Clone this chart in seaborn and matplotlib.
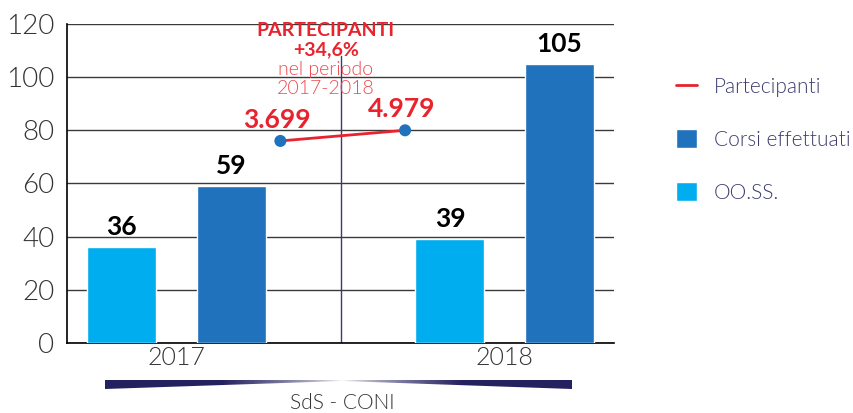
import numpy as np
import pandas as pd
import matplotlib
matplotlib.use("Agg")
import matplotlib.pyplot as plt
from matplotlib.patches import Patch, Polygon
from matplotlib.lines import Line2D
import seaborn as sns

# data
anni = ["2017", "2018"]
oo_ss = [36, 39]
corsi = [59, 105]
partecipanti = [3699, 4979]
partecipanti_h = [76, 80]   # height of the red points on the left scale
slots = ["OO.SS. 2017", "Corsi 2017", "", "OO.SS. 2018", "Corsi 2018"]

LIGHT = "#00aeef"
DARK = "#1f72bb"
RED = "#e8232d"
NAVY = "#24215f"
THIN = 300

sns.set_style("white")
plt.rcParams["font.family"] = ["Lato", "DejaVu Sans"]

df = pd.DataFrame({
    "slot": [slots[0], slots[1], slots[3], slots[4]],
    "valore": [oo_ss[0], corsi[0], oo_ss[1], corsi[1]],
    "serie": ["OO.SS.", "Corsi effettuati", "OO.SS.", "Corsi effettuati"],
})

fig = plt.figure(figsize=(8.54, 4.13), dpi=100)
ax = fig.add_axes([0.0785, 0.1695, 0.6405, 0.7725])

sns.barplot(data=df, x="slot", y="valore", hue="serie", order=slots,
            dodge=False, width=0.63, palette={"OO.SS.": LIGHT, "Corsi effettuati": DARK},
            saturation=1, legend=False, ax=ax, zorder=3)

# value labels on bars
for slot, v in zip(df["slot"], df["valore"]):
    xi = slots.index(slot)
    ax.text(xi, v + 3, str(v), ha="center", va="bottom", fontsize=19,
            fontweight="bold", color="black", zorder=5)

# divider between years
ax.plot([2, 2], [0, 108], color="#3d3a7c", lw=1, zorder=2)

# partecipanti line
px = [1.45, 2.59]
sns.lineplot(x=px, y=partecipanti_h, color=RED, lw=2, ax=ax, zorder=4)
ax.scatter(px, partecipanti_h, s=75, color=DARK, zorder=5, edgecolor="none")
for x, h, p in zip(px, partecipanti_h, partecipanti):
    ax.text(x - 0.03, h + 3.5, f"{p:,}".replace(",", "."), ha="center", va="bottom",
            fontsize=19, fontweight="bold", color=RED, zorder=5)

ax.text(1.865, 117.6, "PARTECIPANTI", ha="center", va="center", fontsize=14,
        fontweight="bold", color=RED, zorder=6)
ax.text(1.865, 110.2, "+34,6%", ha="center", va="center", fontsize=14,
        fontweight="bold", color=RED, zorder=6)
ax.text(1.865, 102.8, "nel periodo", ha="center", va="center", fontsize=14,
        fontweight=THIN, color="#ee4a50", zorder=6)
ax.text(1.865, 95.6, "2017-2018", ha="center", va="center", fontsize=14,
        fontweight=THIN, color="#ee4a50", zorder=6)

ax.set_ylim(0, 120)
ax.set_xlim(-0.5, 4.5)
ax.set_yticks(range(0, 121, 20))
ax.yaxis.grid(True, color="#3a3a3a", lw=1, zorder=0)
ax.set_axisbelow(True)
ax.tick_params(axis="y", length=0, pad=9, labelsize=20, labelcolor="#333333")
ax.set_xticks([0.5, 3.5])
ax.set_xticklabels(anni)
ax.set_xticks([1.5, 2.5, 4.5], minor=True)
ax.tick_params(axis="x", which="both", direction="in", length=7, width=1,
               color="black", labelsize=18, labelcolor="#333333", pad=2)
for lab in ax.get_xticklabels() + ax.get_yticklabels():
    lab.set_fontweight(THIN)
ax.set_xlabel("")
ax.set_ylabel("")
for s in ["top", "right"]:
    ax.spines[s].set_visible(False)
for s in ["left", "bottom"]:
    ax.spines[s].set_color("black")
    ax.spines[s].set_linewidth(1.2)

# bow-tie bar under the axis, fading in the middle
W, H = 854, 413
tax = fig.add_axes([0, 0, 1, 1], facecolor="none")
tax.set_xlim(0, W)
tax.set_ylim(H, 0)
tax.axis("off")
grad = np.zeros((2, 400, 4))
xs = np.linspace(105, 572, 400)
alpha = np.clip(np.abs(xs - 342) / 120, 0, 1) ** 0.7
rgb = matplotlib.colors.to_rgb(NAVY)
grad[..., 0], grad[..., 1], grad[..., 2] = rgb
grad[..., 3] = alpha
im = tax.imshow(grad, extent=[105, 572, 389, 380], aspect="auto", zorder=1)
poly = Polygon([(105, 380), (572, 380), (572, 389), (342, 381), (105, 389)],
               closed=True, transform=tax.transData, facecolor="none", edgecolor="none")
tax.add_patch(poly)
im.set_clip_path(poly)
tax.text(342, 403, "SdS - CONI", ha="center", va="center", fontsize=15,
         fontweight=THIN, color="#333333")

handles = [Line2D([0], [0], color=RED, lw=2),
           Patch(facecolor=DARK), Patch(facecolor=LIGHT)]
labels = ["Partecipanti", "Corsi effettuati", "OO.SS."]
leg = fig.legend(handles, labels, loc="upper left", bbox_to_anchor=(0.77, 0.86),
                 frameon=False, fontsize=15, labelspacing=1.55, handlelength=1.0,
                 handleheight=1.0, handletextpad=0.8, labelcolor="#3c3c6e")
for t in leg.get_texts():
    t.set_fontweight(THIN)

fig.savefig("out.png", dpi=100)
